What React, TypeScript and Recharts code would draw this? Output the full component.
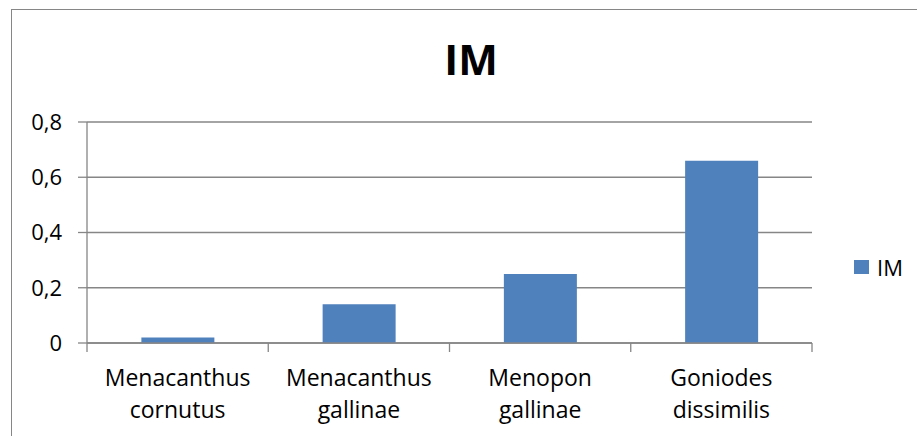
import React from "react";
import { BarChart, Bar, XAxis, YAxis, CartesianGrid } from "recharts";

const categories = [
  "Menacanthus cornutus",
  "Menacanthus gallinae",
  "Menopon gallinae",
  "Goniodes dissimilis",
];
const imValues = [0.02, 0.14, 0.25, 0.66];
const yTicks = [0, 0.2, 0.4, 0.6, 0.8];

const data = categories.map((name, i) => ({ name, IM: imValues[i] }));

const W = 917;
const H = 436;
const X_AXIS_H = 30;
const M = { top: 122, right: 105, left: 0, bottom: 93 - X_AXIS_H };
const Y_AXIS_W = 87;
const AXIS = "#868686";
const BAR = "#4F81BD";
const FONT = "'Open Sans', sans-serif";

const plotW = W - M.left - M.right - Y_AXIS_W;
const band = plotW / categories.length;

function CategoryTick(props: any) {
  const { x, y, payload, index } = props;
  const words = String(payload.value).split(" ");
  return (
    <g>
      <line x1={x - band / 2} x2={x - band / 2} y1={y} y2={y + 9} stroke={AXIS} strokeWidth={1.3} />
      {index === categories.length - 1 && (
        <line x1={x + band / 2} x2={x + band / 2} y1={y} y2={y + 9} stroke={AXIS} strokeWidth={1.3} />
      )}
      <text x={x} y={y + 43} textAnchor="middle" fontFamily={FONT} fontSize={23} fill="#000">
        {words[0]}
      </text>
      <text x={x} y={y + 75} textAnchor="middle" fontFamily={FONT} fontSize={23} fill="#000">
        {words.slice(1).join(" ")}
      </text>
    </g>
  );
}

export default function App() {
  return (
    <div style={{ position: "absolute", left: 0, top: 0, width: W, height: H, background: "#fff", overflow: "hidden" }}>
      <div
        style={{
          position: "absolute",
          left: 11,
          top: 9,
          width: W,
          height: H,
          borderLeft: `1.5px solid ${AXIS}`,
          borderTop: `1.5px solid ${AXIS}`,
        }}
      />
      <div
        style={{
          position: "absolute",
          left: 0,
          width: 942,
          top: 38,
          textAlign: "center",
          fontFamily: FONT,
          fontWeight: 700,
          fontSize: 42,
          lineHeight: "42px",
        }}
      >
        IM
      </div>
      {/* legend */}
      <div
        style={{
          position: "absolute",
          left: 854,
          top: 256,
          display: "flex",
          alignItems: "center",
          fontFamily: FONT,
          fontSize: 22,
        }}
      >
        <div style={{ width: 15, height: 14, background: BAR, marginRight: 8 }} />
        <span style={{ lineHeight: "22px" }}>IM</span>
      </div>
      <BarChart width={W} height={H} data={data} margin={M} barCategoryGap="30%" style={{ position: "absolute", left: 0, top: 0 }}>
        <CartesianGrid vertical={false} stroke={AXIS} strokeWidth={1.3} />
        <XAxis
          dataKey="name"
          height={X_AXIS_H}
          interval={0}
          axisLine={{ stroke: AXIS, strokeWidth: 1.3 }}
          tickLine={false}
          tickSize={0}
          tickMargin={0}
          tick={<CategoryTick />}
        />
        <YAxis
          width={Y_AXIS_W}
          domain={[0, 0.8]}
          ticks={yTicks}
          interval={0}
          axisLine={{ stroke: AXIS, strokeWidth: 1.3 }}
          tickLine={{ stroke: AXIS, strokeWidth: 1.3 }}
          tickSize={9}
          tickMargin={16}
          tick={{ fontFamily: FONT, fontSize: 22, fill: "#000" }}
          tickFormatter={(v: number) => (v === 0 ? "0" : v.toFixed(1).replace(".", ","))}
        />
        <Bar dataKey="IM" fill={BAR} isAnimationActive={false} />
      </BarChart>
    </div>
  );
}
